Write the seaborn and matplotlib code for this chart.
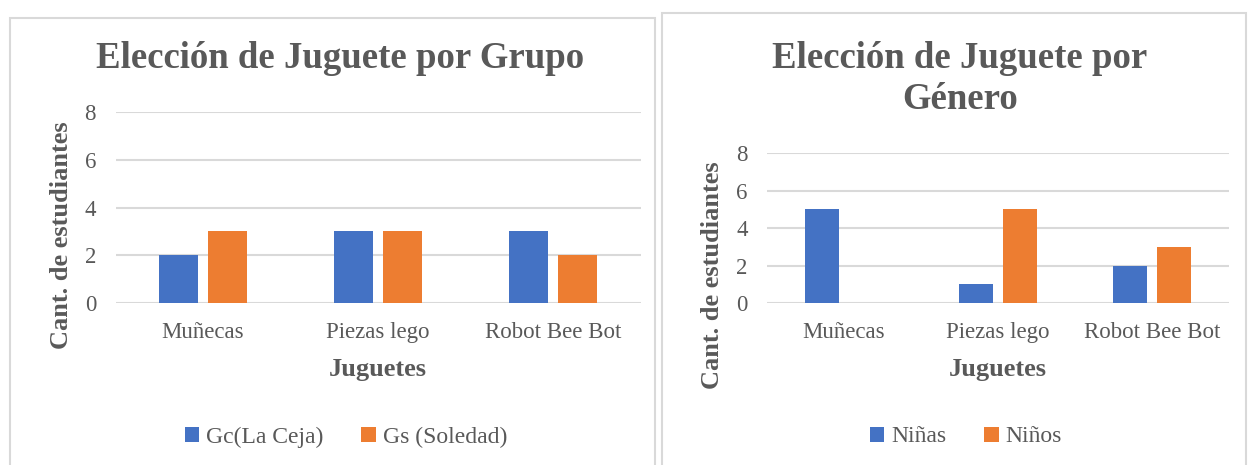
import matplotlib
matplotlib.use("Agg")
import matplotlib.pyplot as plt
from matplotlib.patches import Rectangle
import seaborn as sns
import pandas as pd

# datos
juguetes = ["Muñecas", "Piezas lego", "Robot Bee Bot"]
grupo_gc = [2, 3, 3]
grupo_gs = [3, 3, 2]
ninas = [5, 1, 2]
ninos = [0, 5, 3]

AZUL = "#4472C4"
NARANJA = "#ED7D31"
TEXTO = "#595959"
GRIS = "#D9D9D9"

sns.set_theme(style="white")
plt.rcParams['font.family'] = ['Liberation Serif', 'DejaVu Serif']
plt.rcParams['text.color'] = TEXTO
plt.rcParams['axes.labelcolor'] = TEXTO
plt.rcParams['xtick.color'] = TEXTO
plt.rcParams['ytick.color'] = TEXTO

W, H = 1248, 465
fig = plt.figure(figsize=(W / 100, H / 100), dpi=100)


def px(x0, y_top, x1, y_bot):
    # rect en pixeles -> coords de figura
    return [x0 / W, 1 - y_bot / H, (x1 - x0) / W, (y_bot - y_top) / H]


# marcos de los graficos
for x0, y0, x1, y1 in [(10, 18, 655, 470), (662, 13, 1246, 470)]:
    fig.patches.append(Rectangle((x0 / W, 1 - y1 / H), (x1 - x0) / W, (y1 - y0) / H,
                                 transform=fig.transFigure, fill=False,
                                 edgecolor=GRIS, linewidth=1.5, zorder=0))


def dibujar(ax, serie_a, serie_b, nombres, ylab_pos, xlab_pos, leg_pos):
    df = pd.DataFrame({
        "Juguetes": juguetes * 2,
        "valor": serie_a + serie_b,
        "serie": [nombres[0]] * len(juguetes) + [nombres[1]] * len(juguetes),
    })
    sns.barplot(data=df, x="Juguetes", y="valor", hue="serie", ax=ax,
                palette=[AZUL, NARANJA], width=0.57, gap=0.22,
                saturation=1, linewidth=0, zorder=3)
    ax.set_ylim(0, 8)
    ax.set_yticks([0, 2, 4, 6, 8])
    ax.set_xlim(-0.5, 2.5)
    ax.yaxis.grid(True, color=GRIS, linewidth=1.5, zorder=0)
    ax.set_axisbelow(True)
    sns.despine(ax=ax, left=True, bottom=True)
    ax.tick_params(axis="x", labelsize=16.5, pad=14, length=0)
    ax.tick_params(axis="y", labelsize=16.5, pad=14, length=0)
    ax.set_ylabel("Cant. de estudiantes", fontsize=19, fontweight="bold")
    ax.yaxis.set_label_coords(*ylab_pos)
    ax.yaxis.label.set_va("center")
    ax.set_xlabel("Juguetes", fontsize=19, fontweight="bold")
    ax.xaxis.set_label_coords(*xlab_pos)
    ax.xaxis.label.set_va("center")
    handles, labels = ax.get_legend_handles_labels()
    ax.legend(handles, labels, loc="center", bbox_to_anchor=leg_pos, ncol=2,
              frameon=False, fontsize=17, handlelength=0.6, handleheight=0.6,
              handletextpad=0.3, columnspacing=1.6, labelcolor=TEXTO)


ax1 = fig.add_axes(px(115.5, 112, 640.5, 303))
dibujar(ax1, grupo_gc, grupo_gs, ["Gc(La Ceja)", "Gs (Soledad)"],
        (-0.102, 0.356), (0.5, -0.35), (0.439, -0.702))
fig.text(340 / W, 1 - 58 / H, "Elección de Juguete por Grupo",
         ha="center", va="center", fontsize=26.5, fontweight="bold", color=TEXTO)

ax2 = fig.add_axes(px(767, 153, 1229, 303))
dibujar(ax2, ninas, ninos, ["Niñas", "Niños"],
        (-0.119, 0.187), (0.5, -0.445), (0.431, -0.893))
fig.text(960 / W, 1 - 79 / H, "Elección de Juguete por\nGénero",
         ha="center", va="center", fontsize=26.5, fontweight="bold", color=TEXTO,
         linespacing=1.25)

fig.savefig("out.png", dpi=100)
